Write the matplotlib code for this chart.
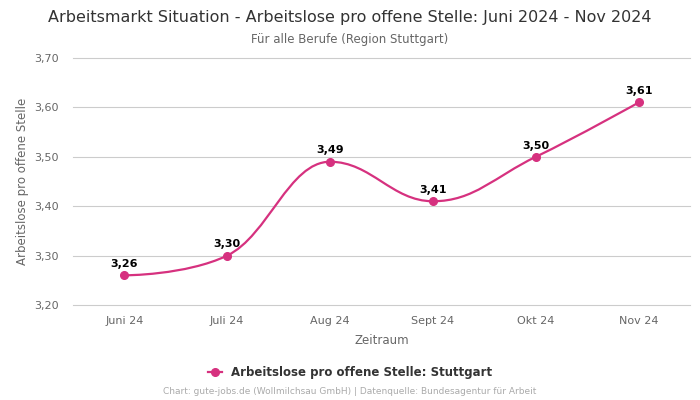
import matplotlib
matplotlib.use('Agg')
import matplotlib.pyplot as plt
from matplotlib.path import Path
from matplotlib.patches import PathPatch
from matplotlib.lines import Line2D
import numpy as np

# data
monate = ['Juni 24', 'Juli 24', 'Aug 24', 'Sept 24', 'Okt 24', 'Nov 24']
werte = [3.26, 3.30, 3.49, 3.41, 3.50, 3.61]
y_ticks = [3.20, 3.30, 3.40, 3.50, 3.60, 3.70]

farbe = '#d6317f'


def spline_path(xs, ys, smoothing=1.5):
    # highcharts style spline control points
    n = len(xs)
    left = [None] * n
    right = [None] * n
    for i in range(1, n - 1):
        x, y = xs[i], ys[i]
        lx, ly = xs[i - 1], ys[i - 1]
        nx_, ny = xs[i + 1], ys[i + 1]
        d = smoothing + 1
        lcx = (smoothing * x + lx) / d
        lcy = (smoothing * y + ly) / d
        rcx = (smoothing * x + nx_) / d
        rcy = (smoothing * y + ny) / d
        corr = (rcy - lcy) * (rcx - x) / (rcx - lcx) + y - rcy
        lcy += corr
        rcy += corr
        if lcy > ly and lcy > y:
            lcy = max(ly, y)
            rcy = 2 * y - lcy
        elif lcy < ly and lcy < y:
            lcy = min(ly, y)
            rcy = 2 * y - lcy
        if rcy > ny and rcy > y:
            rcy = max(ny, y)
            lcy = 2 * y - rcy
        elif rcy < ny and rcy < y:
            rcy = min(ny, y)
            lcy = 2 * y - rcy
        left[i] = (lcx, lcy)
        right[i] = (rcx, rcy)
    verts = [(xs[0], ys[0])]
    codes = [Path.MOVETO]
    for i in range(1, n):
        c1 = right[i - 1] if right[i - 1] else (xs[i - 1], ys[i - 1])
        c2 = left[i] if left[i] else (xs[i], ys[i])
        verts += [c1, c2, (xs[i], ys[i])]
        codes += [Path.CURVE4] * 3
    return Path(verts, codes)


fig = plt.figure(figsize=(7, 4), dpi=100)
ax = fig.add_axes([0.104, 0.2375, 0.882, 0.6175])

x = np.arange(len(monate))
ax.add_patch(PathPatch(spline_path(list(x), werte), fill=False, edgecolor=farbe, lw=1.6, zorder=3))
ax.plot(x, werte, 'o', color=farbe, ms=5.5, zorder=4)

for xi, v in zip(x, werte):
    ax.annotate(('%.2f' % v).replace('.', ','), (xi, v), xytext=(0, 4.5), textcoords='offset points',
                ha='center', va='bottom', fontsize=8, fontweight='bold', color='black')

ax.set_xlim(-0.5, len(monate) - 0.5)
ax.set_ylim(3.20, 3.70)
ax.set_yticks(y_ticks)
ax.set_yticklabels([('%.2f' % t).replace('.', ',') for t in y_ticks])
ax.set_xticks(x)
ax.set_xticklabels(monate)
ax.tick_params(axis='both', length=0, labelsize=8, labelcolor='#666666')
ax.xaxis.set_tick_params(pad=8)
ax.yaxis.set_tick_params(pad=10)
ax.grid(axis='y', color='#cccccc', lw=0.8)
for gl in ax.get_ygridlines():
    gl.set_clip_on(False)
ax.set_axisbelow(True)
for s in ax.spines.values():
    s.set_visible(False)

ax.set_xlabel('Zeitraum', fontsize=8.5, color='#666666', labelpad=6)
ax.set_ylabel('Arbeitslose pro offene Stelle', fontsize=8.5, color='#666666', labelpad=4)

fig.text(0.5, 0.957, 'Arbeitsmarkt Situation - Arbeitslose pro offene Stelle: Juni 2024 - Nov 2024',
         ha='center', va='center', fontsize=11.5, color='#333333')
fig.text(0.5, 0.902, 'Für alle Berufe (Region Stuttgart)', ha='center', va='center',
         fontsize=8.5, color='#666666')

handle = Line2D([0], [0], color=farbe, marker='o', ms=5.5, lw=1.6)
fig.legend([handle], ['Arbeitslose pro offene Stelle: Stuttgart'], loc='center',
           bbox_to_anchor=(0.5, 0.068), frameon=False, handlelength=1.2,
           prop={'size': 8.5, 'weight': 'bold'}, labelcolor='#333333')

fig.text(0.5, 0.02, 'Chart: gute-jobs.de (Wollmilchsau GmbH) | Datenquelle: Bundesagentur für Arbeit',
         ha='center', va='center', fontsize=6.5, color='#aaaaaa')

fig.savefig('out.png', dpi=100)
